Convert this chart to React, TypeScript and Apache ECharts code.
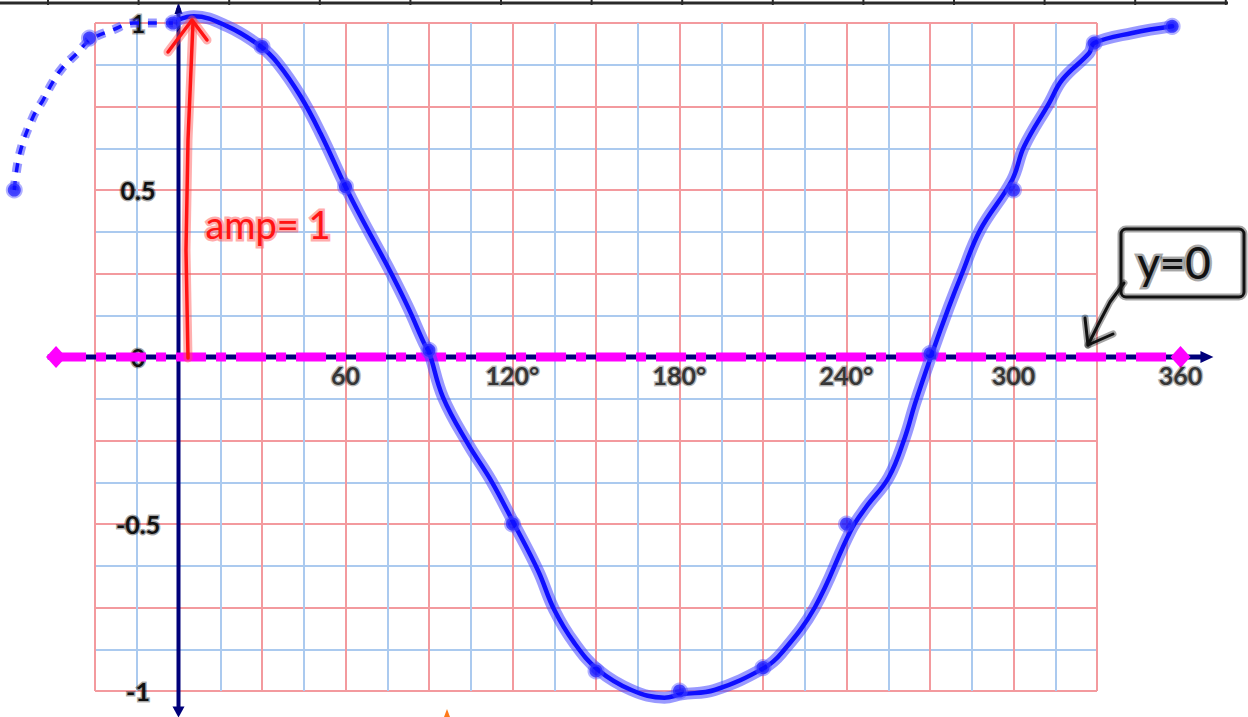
import React, { useEffect, useRef } from "react";
import * as echarts from "echarts";

// ---- data ----
// main hand-drawn cosine curve (degrees, value)
const CURVE_DEG = [0, 5.5, 17.6, 29.5, 35.6, 43.9, 51, 60, 65.5, 75.2, 82.4, 88.3, 90, 95, 104, 112.3, 120.6, 129.2, 135, 142.2, 150.8, 162.7, 174.6, 180.7, 192.6, 210.6, 216.7, 228.6, 241.5, 247, 255.2, 261, 264.6, 270.7, 276.8, 281.5, 288, 299.5, 303.8, 312.8, 317.5, 327.2, 329, 342.7, 357];
const CURVE_VAL = [1.01, 1.02, 0.99, 0.93, 0.88, 0.78, 0.67, 0.51, 0.42, 0.27, 0.15, 0.04, 0.015, -0.12, -0.26, -0.37, -0.5, -0.64, -0.757, -0.856, -0.937, -0.997, -1.02, -1.01, -0.997, -0.93, -0.886, -0.75, -0.52, -0.45, -0.36, -0.24, -0.14, 0.01, 0.15, 0.25, 0.38, 0.53, 0.63, 0.76, 0.83, 0.91, 0.94, 0.97, 0.99];
// dashed extension to the left
const DASH_DEG = [-59, -57, -52.2, -48.6, -45.4, -41.8, -36.4, -31.7, -23.4, -16.2, -6.5, -2];
const DASH_VAL = [0.5, 0.61, 0.72, 0.77, 0.82, 0.865, 0.91, 0.95, 0.98, 1.0, 1.0, 1.0];
// plotted dots
const DOT_DEG = [-59, -32, -2, 30, 60, 90, 120, 150, 180, 210, 240, 270, 300, 329, 357];
const DOT_VAL = [0.5, 0.955, 1.0, 0.93, 0.51, 0.02, -0.5, -0.94, -1.0, -0.93, -0.5, 0.01, 0.5, 0.94, 0.99];
// tick labels
const X_LABEL_DEG = [60, 120, 180, 240, 300, 360];
const X_LABEL_TEXT = ["60", "120°", "180°", "240°", "300", "360"];
const Y_LABEL_VALUES = [1, 0.5, 0, -0.5, -1];
const Y_LABEL_TEXT = ["1", "0.5", "0", "-0.5", "-1"];
// paper grid range and axes extents (degrees / value)
const PAPER_X = [-30, 330];
const PAPER_Y = [-1, 1];
const X_AXIS_EXTENT = [-47, 369.5];
const Y_AXIS_EXTENT = [-1.063, 1.045];
const ZERO_LINE_EXTENT = [-44, 360];

const W = 1248;
const H = 717;
const PAPER_BOX = { left: 95, right: 151, top: 23, bottom: 26 };

const FONT = "Lato, 'DejaVu Sans', sans-serif";
const RED_GRID = "#f39a9e";
const BLUE_GRID = "#abcaef";
const NAVY = "#00007a";
const BLUE = "#0f0fff";
const BLUE_HALO = "rgba(70,70,255,0.55)";
const RED = "#ff1414";
const RED_HALO = "rgba(255,80,80,0.45)";

export default function App() {
  const ref = useRef<HTMLDivElement>(null);

  useEffect(() => {
    if (!ref.current) return;
    const chart = echarts.init(ref.current, undefined, { renderer: "svg" });

    // full-canvas axis with the same scale as the paper grid
    const pxPerDeg = (W - PAPER_BOX.left - PAPER_BOX.right) / (PAPER_X[1] - PAPER_X[0]);
    const pxPerVal = (H - PAPER_BOX.top - PAPER_BOX.bottom) / (PAPER_Y[1] - PAPER_Y[0]);
    const fullXMin = PAPER_X[0] - PAPER_BOX.left / pxPerDeg;
    const fullXMax = PAPER_X[1] + PAPER_BOX.right / pxPerDeg;
    const fullYMin = PAPER_Y[0] - PAPER_BOX.bottom / pxPerVal;
    const fullYMax = PAPER_Y[1] + PAPER_BOX.top / pxPerVal;

    const curve = CURVE_DEG.map((d, i) => [d, CURVE_VAL[i]]);
    const dashed = DASH_DEG.map((d, i) => [d, DASH_VAL[i]]);
    const dots = DOT_DEG.map((d, i) => [d, DOT_VAL[i]]);
    const xLabels = X_LABEL_DEG.map((d) => [d, 0]);

    const rulerTicks: any[] = [];
    for (let i = 0; i < 14; i++) {
      const x = 48 + i * 90.6;
      rulerTicks.push({
        type: "line",
        shape: { x1: x, y1: 0, x2: x, y2: 5 },
        style: { stroke: "#2a2a2a", lineWidth: 2 },
        z: 50,
      });
    }

    const haloText = (text: string, x: number, y: number, size: number, fill: string, halo: string) => [
      {
        type: "text",
        x,
        y,
        z: 60,
        style: {
          text,
          fill: halo,
          stroke: halo,
          lineWidth: 5,
          fontSize: size,
          fontFamily: FONT,
          align: "center",
          verticalAlign: "middle",
        },
      },
      {
        type: "text",
        x,
        y,
        z: 61,
        style: {
          text,
          fill,
          fontSize: size,
          fontFamily: FONT,
          align: "center",
          verticalAlign: "middle",
        },
      },
    ];

    const onFull = { xAxisIndex: 1, yAxisIndex: 1 };

    const option: any = {
      animation: false,
      backgroundColor: "#ffffff",
      grid: [
        { left: PAPER_BOX.left, right: PAPER_BOX.right, top: PAPER_BOX.top, bottom: PAPER_BOX.bottom },
        { left: 0, right: 0, top: 0, bottom: 0 },
      ],
      xAxis: [
        {
          type: "value",
          gridIndex: 0,
          min: PAPER_X[0],
          max: PAPER_X[1],
          interval: 30,
          axisLine: { show: false },
          axisTick: { show: false },
          axisLabel: { show: false },
          splitLine: { show: true, lineStyle: { color: RED_GRID, width: 2 } },
          minorTick: { show: false, splitNumber: 2 },
          minorSplitLine: { show: true, lineStyle: { color: BLUE_GRID, width: 2 } },
        },
        {
          type: "value",
          gridIndex: 1,
          min: fullXMin,
          max: fullXMax,
          show: false,
          splitLine: { show: false },
        },
      ],
      yAxis: [
        {
          type: "value",
          gridIndex: 0,
          min: PAPER_Y[0],
          max: PAPER_Y[1],
          interval: 0.25,
          axisLine: { show: false },
          axisTick: { show: false },
          axisLabel: {
            show: true,
            inside: true,
            margin: 43,
            align: "center",
            fontSize: 25,
            fontWeight: "bold",
            fontFamily: FONT,
            color: "#111",
            textBorderColor: "rgba(0,0,0,0.35)",
            textBorderWidth: 3,
            formatter: (v: number) => {
              const i = Y_LABEL_VALUES.findIndex((y) => Math.abs(y - v) < 1e-6);
              return i >= 0 ? Y_LABEL_TEXT[i] : "";
            },
          },
          splitLine: { show: true, lineStyle: { color: RED_GRID, width: 2 } },
          minorTick: { show: false, splitNumber: 2 },
          minorSplitLine: { show: true, lineStyle: { color: BLUE_GRID, width: 2 } },
        },
        {
          type: "value",
          gridIndex: 1,
          min: fullYMin,
          max: fullYMax,
          show: false,
          splitLine: { show: false },
        },
      ],
      series: [
        // navy y axis
        {
          type: "line",
          ...onFull,
          z: 3,
          symbol: "none",
          lineStyle: { color: NAVY, width: 4 },
          itemStyle: { color: NAVY },
          data: [
            { value: [0, Y_AXIS_EXTENT[0]], symbol: "triangle", symbolSize: [12, 11], symbolRotate: 180 },
            { value: [0, Y_AXIS_EXTENT[1]], symbol: "triangle", symbolSize: [8, 12], symbolRotate: 0 },
          ],
        },
        // navy x axis
        {
          type: "line",
          ...onFull,
          z: 3,
          symbol: "none",
          lineStyle: { color: NAVY, width: 5 },
          itemStyle: { color: NAVY },
          data: [
            { value: [X_AXIS_EXTENT[0], 0], symbol: "none" },
            { value: [X_AXIS_EXTENT[1], 0], symbol: "triangle", symbolSize: [12, 13], symbolRotate: -90 },
          ],
        },
        // magenta y=0 dashed line
        {
          type: "line",
          ...onFull,
          z: 4,
          symbol: "none",
          lineStyle: { color: "#ff00ff", width: 9, type: [30, 10, 10, 10] },
          itemStyle: { color: "#ff00ff" },
          data: [
            { value: [ZERO_LINE_EXTENT[0], 0], symbol: "diamond", symbolSize: [20, 22] },
            { value: [ZERO_LINE_EXTENT[1], 0], symbol: "diamond", symbolSize: [20, 22] },
          ],
        },
        // dashed extension halo + core
        {
          type: "line",
          ...onFull,
          z: 5,
          smooth: 0.4,
          symbol: "none",
          lineStyle: { color: BLUE_HALO, width: 9, type: [9, 9] },
          data: dashed,
        },
        {
          type: "line",
          ...onFull,
          z: 6,
          smooth: 0.4,
          symbol: "none",
          lineStyle: { color: BLUE, width: 3.5, type: [9, 9] },
          data: dashed,
        },
        // main curve halo + core
        {
          type: "line",
          ...onFull,
          z: 5,
          smooth: 0.4,
          symbol: "none",
          lineStyle: { color: BLUE_HALO, width: 12, cap: "round", join: "round" },
          data: curve,
        },
        {
          type: "line",
          ...onFull,
          z: 6,
          smooth: 0.4,
          symbol: "none",
          lineStyle: { color: BLUE, width: 4.5, cap: "round", join: "round" },
          data: curve,
        },
        // dots
        {
          type: "scatter",
          ...onFull,
          z: 7,
          symbolSize: 13,
          itemStyle: { color: BLUE, borderColor: "rgba(80,80,255,0.55)", borderWidth: 4 },
          data: dots,
        },
        // x tick labels
        {
          type: "scatter",
          ...onFull,
          z: 9,
          symbolSize: 1,
          itemStyle: { color: "rgba(0,0,0,0)" },
          label: {
            show: true,
            position: "inside",
            offset: [0, 18],
            fontSize: 25,
            fontWeight: "bold",
            fontFamily: FONT,
            color: "#111",
            textBorderColor: "rgba(0,0,0,0.35)",
            textBorderWidth: 3,
            formatter: (p: any) => X_LABEL_TEXT[p.dataIndex],
          },
          data: xLabels,
        },
      ],
      graphic: [
        // ruler at top
        {
          type: "line",
          shape: { x1: 0, y1: 3, x2: 1228, y2: 3 },
          style: { stroke: "#2a2a2a", lineWidth: 3 },
          z: 50,
        },
        ...rulerTicks,
        // red amplitude arrow
        {
          type: "polyline",
          z: 40,
          shape: { points: [[188, 358], [186, 250], [188, 140], [193, 22]] },
          style: { stroke: RED_HALO, lineWidth: 9, fill: "none", lineCap: "round", lineJoin: "round" },
        },
        {
          type: "polyline",
          z: 40,
          shape: { points: [[168, 52], [192, 20], [207, 40]] },
          style: { stroke: RED_HALO, lineWidth: 9, fill: "none", lineCap: "round", lineJoin: "round" },
        },
        {
          type: "polyline",
          z: 41,
          shape: { points: [[188, 358], [186, 250], [188, 140], [193, 22]] },
          style: { stroke: RED, lineWidth: 3.5, fill: "none", lineCap: "round", lineJoin: "round" },
        },
        {
          type: "polyline",
          z: 41,
          shape: { points: [[168, 52], [192, 20], [207, 40]] },
          style: { stroke: RED, lineWidth: 3.5, fill: "none", lineCap: "round", lineJoin: "round" },
        },
        ...haloText("amp= 1", 268, 224, 38, RED, "rgba(255,90,90,0.5)"),
        // y=0 callout box
        {
          type: "rect",
          z: 40,
          shape: { x: 1121, y: 229, width: 123, height: 68, r: 5 },
          style: { fill: "#ffffff", stroke: "rgba(0,0,0,0.35)", lineWidth: 7 },
        },
        {
          type: "rect",
          z: 41,
          shape: { x: 1121, y: 229, width: 123, height: 68, r: 5 },
          style: { fill: "none", stroke: "#111", lineWidth: 3 },
        },
        ...haloText("y=0", 1174, 262, 44, "#111", "rgba(0,0,0,0.35)"),
        {
          type: "polyline",
          z: 40,
          shape: { points: [[1124, 283], [1110, 302], [1098, 325], [1088, 345]] },
          style: { stroke: "rgba(0,0,0,0.35)", lineWidth: 7, fill: "none", lineCap: "round", lineJoin: "round" },
        },
        {
          type: "polyline",
          z: 40,
          shape: { points: [[1085, 318], [1088, 345], [1113, 334]] },
          style: { stroke: "rgba(0,0,0,0.35)", lineWidth: 7, fill: "none", lineCap: "round", lineJoin: "round" },
        },
        {
          type: "polyline",
          z: 41,
          shape: { points: [[1124, 283], [1110, 302], [1098, 325], [1088, 345]] },
          style: { stroke: "#111", lineWidth: 3, fill: "none", lineCap: "round", lineJoin: "round" },
        },
        {
          type: "polyline",
          z: 41,
          shape: { points: [[1085, 318], [1088, 345], [1113, 334]] },
          style: { stroke: "#111", lineWidth: 3, fill: "none", lineCap: "round", lineJoin: "round" },
        },
        // small orange mark at bottom
        {
          type: "polygon",
          z: 40,
          shape: { points: [[444, 717], [447, 709], [450, 717]] },
          style: { fill: "#ff7a1a" },
        },
      ],
    };

    chart.setOption(option);
    return () => chart.dispose();
  }, []);

  return (
    <div
      ref={ref}
      style={{ position: "absolute", left: 0, top: 0, width: W, height: H, background: "#fff" }}
    />
  );
}
